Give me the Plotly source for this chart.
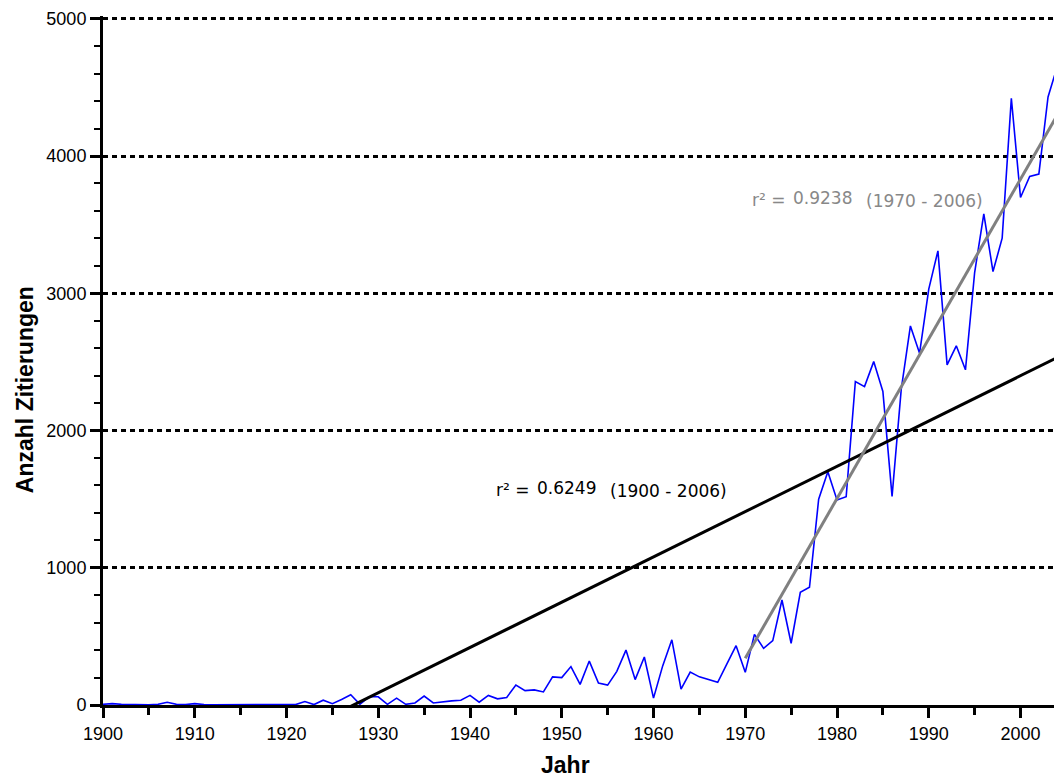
import numpy as np
import plotly.graph_objects as go

years = list(range(1900, 2005))
citations = [
    5, 10, 5, 3, 3, 2, 5, 20, 5, 3,            # 1900-1909
    10, 3, 2, 2, 2, 2, 3, 2, 3, 3,             # 1910-1919
    5, 3, 25, 3, 35, 10, 40, 75, 5, 60,        # 1920-1929
    60, 5, 50, 5, 15, 65, 15, 25, 30, 35,      # 1930-1939
    70, 20, 70, 45, 55, 145, 105, 110, 95, 205,  # 1940-1949
    200, 280, 150, 320, 160, 145, 245, 400, 185, 350,  # 1950-1959
    50, 285, 475, 115, 240, 205, 185, 165, 300, 432,   # 1960-1969
    238, 515, 413, 469, 765, 450, 821, 858, 1499, 1700,  # 1970-1979
    1494, 1518, 2357, 2320, 2502, 2284, 1520, 2300, 2762, 2563,  # 1980-1989
    3030, 3309, 2478, 2617, 2442, 3151, 3579, 3158, 3401, 4421,  # 1990-1999
    3698, 3851, 3868, 4430, 4650,  # 2000-2004
]

# linear fits
fit_all_years = [1900, 2006]
fit_all_slope = 33.0
fit_all_zero_year = 1927.3
fit_all_r2 = "0.6249"
fit_all_span = "(1900 - 2006)"

fit_recent_years = [1970, 2006]
fit_recent_start_value = 340.0
fit_recent_slope = 116.4
fit_recent_r2 = "0.9238"
fit_recent_span = "(1970 - 2006)"

y_ticks = [0, 1000, 2000, 3000, 4000, 5000]
x_ticks = list(range(1900, 2001, 10))

fx_all = np.array(fit_all_years, dtype=float)
fy_all = fit_all_slope * (fx_all - fit_all_zero_year)
fx_rec = np.array(fit_recent_years, dtype=float)
fy_rec = fit_recent_start_value + fit_recent_slope * (fx_rec - fit_recent_years[0])

FONT = "Arial, Liberation Sans, sans-serif"
LABEL_FONT = "DejaVu Sans, Arial, sans-serif"

fig = go.Figure()
fig.add_trace(go.Scatter(x=years, y=citations, mode="lines",
                         line=dict(color="#0000FF", width=1.6), hoverinfo="skip"))
fig.add_trace(go.Scatter(x=fx_all, y=fy_all, mode="lines",
                         line=dict(color="black", width=3), hoverinfo="skip"))
fig.add_trace(go.Scatter(x=fx_rec, y=fy_rec, mode="lines",
                         line=dict(color="#808080", width=3), hoverinfo="skip"))

fig.update_layout(
    width=1054, height=782,
    margin=dict(l=103, r=0, t=16, b=77),
    plot_bgcolor="white", paper_bgcolor="white",
    showlegend=False,
    font=dict(family=FONT, color="black", size=18),
)
fig.update_xaxes(
    range=[1900, 2003.65],
    tickvals=x_ticks, ticks="outside", ticklen=10, tickwidth=2.5, tickcolor="black",
    minor=dict(dtick=5, tick0=1900, ticks="outside", ticklen=7, tickwidth=2.5, tickcolor="black", showgrid=False),
    showline=True, linecolor="black", linewidth=3,
    showgrid=False, zeroline=False,
    tickfont=dict(size=18, family=FONT),
)
fig.update_yaxes(
    range=[0, 5020],
    tickvals=y_ticks, ticks="outside", ticklen=10, tickwidth=2.5, tickcolor="black",
    minor=dict(dtick=200, tick0=0, ticks="outside", ticklen=6, tickwidth=2, tickcolor="black", showgrid=False),
    showline=True, linecolor="black", linewidth=3,
    showgrid=True, gridcolor="black", gridwidth=2.5, griddash="5px,4px",
    zeroline=False,
    tickfont=dict(size=18, family=FONT),
)

fig.add_annotation(text="<b>Anzahl Zitierungen</b>", xref="paper", yref="paper",
                   x=-0.082, y=0.457, xanchor="center", yanchor="middle",
                   textangle=-90, showarrow=False,
                   font=dict(size=23, family=FONT, color="black"))
fig.add_annotation(text="<b>Jahr</b>", xref="paper", yref="paper",
                   x=0.486, y=-0.087, xanchor="center", yanchor="middle", showarrow=False,
                   font=dict(size=23, family=FONT, color="black"))

def add_fit_label(x_left, x_num, x_span, y, r2, span, color):
    fig.add_annotation(text="r² =", x=x_left, y=y, xanchor="left", yanchor="middle",
                       showarrow=False, font=dict(size=17, family=LABEL_FONT, color=color))
    fig.add_annotation(text=r2, x=x_num, y=y + 12, xanchor="left", yanchor="middle",
                       showarrow=False, font=dict(size=17, family=LABEL_FONT, color=color))
    fig.add_annotation(text=span, x=x_span, y=y - 8, xanchor="left", yanchor="middle",
                       showarrow=False, font=dict(size=17, family=LABEL_FONT, color=color))

add_fit_label(1942.6, 1947.1, 1955.0, 1567, fit_all_r2, fit_all_span, "black")
add_fit_label(1970.5, 1975.0, 1982.9, 3680, fit_recent_r2, fit_recent_span, "#888888")

fig.write_html("out.html", config={"displayModeBar": False},
               post_script="document.body.style.margin='0';document.body.style.overflow='hidden';")
